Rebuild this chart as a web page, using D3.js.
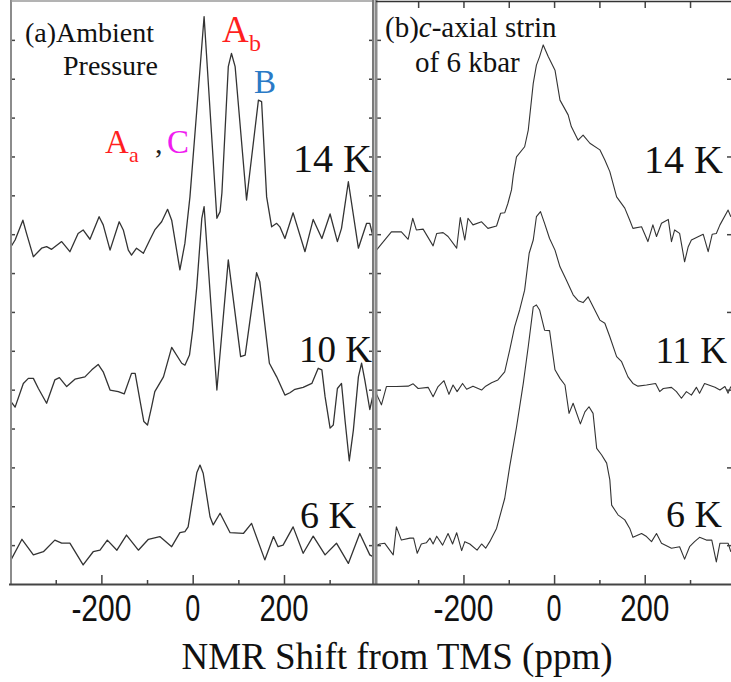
<!DOCTYPE html>
<html>
<head>
<meta charset="utf-8">
<script src="https://cdn.jsdelivr.net/npm/d3@7"></script>
<style>
  body { margin: 0; background: #fff; }
  svg { display: block; }
</style>
</head>
<body>
<div id="chart"></div>
<script>
// spectra: [shift in ppm, intensity in y-tick units]
const ambient14K = [[-398,8.68],[-389,8.85],[-372,9.36],[-364,9.02],[-349,8.42],[-331,8.64],[-320,8.68],[-309,8.61],[-287,8.81],[-269,8.55],[-251,9.02],[-240,9.11],[-225,8.87],[-205,9.45],[-196,9.24],[-181,8.59],[-161,9.32],[-152,9.11],[-141,8.59],[-134,8.46],[-123,8.64],[-108,8.51],[-94,8.85],[-83,9.11],[-68,9.32],[-55,9.64],[-46,9.36],[-28,8.08],[-17,8.77],[-6,9.96],[9,12.19],[25,14.6],[53,9.41],[60,9.58],[64,10.06],[78,13.31],[85,13.65],[93,13.31],[118,9.88],[144,12.45],[151,12.41],[162,9.96],[173,9.19],[184,9.28],[191,9.19],[202,8.89],[220,9.55],[246,8.55],[264,9.38],[283,8.89],[301,9.52],[317,8.81],[326,9.15],[341,10.35],[363,8.64],[381,9.28],[388,9.28],[395,8.94]];
const ambient10K = [[-398,4.69],[-389,4.55],[-371,5.16],[-360,5.29],[-349,5.29],[-338,5.03],[-320,4.65],[-302,5.25],[-292,5.31],[-276,5.08],[-258,5.27],[-236,5.33],[-221,5.51],[-207,5.65],[-196,5.46],[-181,4.99],[-163,4.95],[-150,4.89],[-134,5.42],[-126,5.42],[-115,4.69],[-107,4.18],[-99,4.09],[-90,4.56],[-83,4.95],[-64,5.33],[-46,6.09],[-24,5.68],[-17,5.63],[-7,5.89],[0,6.53],[9,7.65],[20,9.41],[25,9.71],[53,4.99],[78,8.34],[105,5.85],[115,5.89],[140,8.01],[147,7.78],[168,5.68],[184,5.33],[202,4.86],[213,4.92],[224,5.01],[242,5.06],[261,5.16],[275,5.55],[283,5.51],[290,4.82],[301,4.01],[308,4.09],[317,5.03],[326,5.16],[334,4.18],[343,3.17],[352,3.96],[363,5.33],[370,5.68],[377,5.25],[388,4.49],[395,4.86]];
const ambient6K = [[-398,0.62],[-374,1.15],[-349,0.75],[-327,0.83],[-302,1.13],[-287,1.05],[-269,1.05],[-240,0.49],[-218,0.83],[-203,0.87],[-187,1.13],[-166,0.87],[-145,1.26],[-119,0.87],[-97,1.15],[-72,1.22],[-46,0.96],[-28,1.32],[-17,1.35],[-10,1.47],[9,2.86],[16,3.06],[23,2.85],[38,1.73],[45,1.52],[60,1.82],[82,1.32],[111,1.3],[129,1.56],[158,0.62],[177,1.22],[187,0.96],[198,1.0],[220,1.47],[242,0.79],[264,1.23],[290,0.75],[315,1.05],[341,0.53],[366,1.3],[388,0.75],[395,0.7]];

const strain14K = [[-392,8.59],[-374,8.85],[-359,9.06],[-337,9.06],[-322,8.87],[-312,9.41],[-304,9.11],[-289,9.13],[-267,8.7],[-259,9.02],[-245,9.04],[-234,8.94],[-215,8.64],[-207,9.43],[-197,8.85],[-190,9.41],[-179,9.24],[-160,9.32],[-146,9.15],[-127,9.21],[-118,9.54],[-109,9.55],[-102,9.79],[-94,10.14],[-90,10.52],[-83,10.99],[-65,11.25],[-57,11.68],[-46,12.88],[-39,13.35],[-32,13.57],[-24,13.87],[-13,13.57],[2,13.22],[13,12.45],[31,12.07],[38,11.77],[53,11.42],[64,11.55],[79,11.34],[101,11.17],[112,10.91],[123,10.61],[138,9.96],[156,9.67],[167,9.36],[174,9.15],[193,9.19],[207,8.81],[218,9.24],[226,8.94],[237,9.28],[252,9.38],[259,8.81],[266,9.11],[277,9.02],[288,8.29],[296,8.68],[303,8.85],[329,9.0],[340,8.55],[349,9.0],[358,9.02],[366,9.24],[384,9.62],[390,9.45]];
const strain11K = [[-396,4.99],[-381,4.61],[-370,5.08],[-348,5.08],[-322,5.09],[-311,5.15],[-300,5.03],[-278,5.06],[-267,4.82],[-256,5.08],[-243,5.23],[-232,4.88],[-223,5.12],[-214,4.95],[-202,5.16],[-193,5.01],[-179,5.09],[-160,4.99],[-151,5.09],[-138,5.18],[-124,5.25],[-109,5.46],[-98,6.02],[-87,6.62],[-76,7.05],[-65,7.56],[-55,8.51],[-46,8.85],[-39,9.45],[-30,9.58],[-21,9.28],[-10,8.89],[2,8.59],[13,8.16],[27,7.82],[42,7.44],[53,7.29],[64,7.24],[75,7.39],[101,6.79],[112,6.71],[123,6.36],[138,5.85],[149,5.72],[163,5.33],[174,5.16],[185,5.09],[204,5.12],[224,5.16],[233,4.95],[241,5.03],[259,5.06],[270,4.95],[281,4.78],[292,4.95],[303,4.86],[314,5.06],[321,4.91],[332,5.16],[355,5.06],[366,4.99],[377,5.08],[384,4.91],[390,5.08]];
const strain6K = [[-396,0.96],[-385,1.03],[-374,1.05],[-355,0.75],[-348,1.47],[-337,1.13],[-318,1.18],[-310,1.18],[-302,0.79],[-293,1.03],[-282,1.06],[-274,1.18],[-267,1.03],[-259,1.23],[-246,1.0],[-234,1.3],[-224,1.03],[-215,1.32],[-204,0.86],[-197,1.09],[-186,1.03],[-170,0.87],[-160,1.03],[-151,0.92],[-142,1.09],[-127,1.43],[-109,2.2],[-98,3.02],[-83,4.03],[-68,5.16],[-57,6.11],[-46,7.13],[-39,7.18],[-32,7.05],[-21,6.53],[-10,6.52],[2,5.51],[13,5.29],[24,5.12],[33,4.39],[42,4.65],[58,4.12],[68,4.43],[77,4.56],[86,4.39],[94,3.49],[105,3.32],[116,3.11],[123,2.68],[127,2.03],[141,1.78],[156,1.65],[167,1.43],[174,1.2],[193,1.3],[204,1.22],[215,1.09],[226,1.3],[237,1.05],[259,0.92],[277,0.96],[288,0.64],[299,0.96],[310,1.09],[321,1.2],[336,1.13],[348,1.13],[358,0.57],[366,1.05],[384,1.05],[390,0.83]];

const majorTicks = [-200, 0, 200];
const minorTicks = [-300, -100, 100, 300];
const yTicks = [1, 2, 3, 4, 5, 6, 7, 8, 9, 10, 11, 12, 13, 14];
const tempsA = [{ t: '14 K', x: 372, y: 172, s: 40 }, { t: '10 K', x: 372, y: 362, s: 37 }, { t: '6 K', x: 356, y: 528, s: 38 }];
const tempsB = [{ t: '14 K', x: 723, y: 173, s: 40 }, { t: '11 K', x: 727, y: 363, s: 37 }, { t: '6 K', x: 722, y: 527, s: 38 }];

const W = 731, H = 682;
const serif = '"Liberation Serif", "Times New Roman", serif';
const narrow = '"Liberation Sans Narrow", "Liberation Sans", Arial, sans-serif';

const svg = d3.select('#chart').append('svg')
  .attr('width', W).attr('height', H)
  .style('background', '#fff');

const y = d3.scaleLinear().domain([0, 15]).range([584, 1]);
const xA = d3.scaleLinear().domain([-398, 395]).range([11, 373]);
const xB = d3.scaleLinear().domain([-393, 394.8]).range([376, 733]);

// clip regions for the two panels
const defs = svg.append('defs');
defs.append('clipPath').attr('id', 'clipA').append('rect').attr('x', 11).attr('y', 0).attr('width', 362).attr('height', 584);
defs.append('clipPath').attr('id', 'clipB').append('rect').attr('x', 376).attr('y', 0).attr('width', 357).attr('height', 584);

const drawTraces = (x, clip, series, width) => {
  const line = d3.line().x(d => x(d[0])).y(d => y(d[1]));
  svg.append('g').attr('clip-path', `url(#${clip})`)
    .selectAll('path').data(series).join('path')
    .attr('d', line)
    .attr('fill', 'none')
    .attr('stroke', '#333')
    .attr('stroke-width', width)
    .attr('stroke-linejoin', 'round');
};
drawTraces(xA, 'clipA', [ambient14K, ambient10K, ambient6K], 1.3);
drawTraces(xB, 'clipB', [strain14K, strain11K, strain6K], 1.1);

// tick marks, all pointing into the panels
const tickGroup = (axis, tx, ty) => {
  const g = svg.append('g').attr('transform', `translate(${tx},${ty})`).call(axis);
  g.select('.domain').remove();
  g.selectAll('.tick line').attr('stroke', '#444').attr('stroke-width', 1.5);
  g.selectAll('.tick text').remove();
  return g;
};
[xA, xB].forEach(x => {
  tickGroup(d3.axisBottom(x).tickValues(majorTicks).tickSize(-9), 0, 584);
  tickGroup(d3.axisBottom(x).tickValues(minorTicks).tickSize(-4), 0, 584);
});
tickGroup(d3.axisTop(xB).tickValues(majorTicks.concat(minorTicks)).tickSize(-7), 0, 1);
tickGroup(d3.axisLeft(y).tickValues(yTicks).tickSize(-4), 11, 0);
tickGroup(d3.axisRight(y).tickValues(yTicks).tickSize(-4), 373, 0);
tickGroup(d3.axisLeft(y).tickValues(yTicks).tickSize(-5), 376, 0);
tickGroup(d3.axisRight(y).tickValues(yTicks.filter(v => v % 2)).tickSize(-6), 733, 0);

// panel frames
const frame = (x1, y1, x2, y2, color, w) => svg.append('line')
  .attr('x1', x1).attr('y1', y1).attr('x2', x2).attr('y2', y2)
  .attr('stroke', color).attr('stroke-width', w);
frame(11, 0, 11, 585, '#8c8c8c', 2);
frame(11, 1, 373, 1, '#9a9a9a', 1.5);
frame(373, 0, 373, 585, '#7a7a7a', 2);
frame(376, 0, 376, 585, '#8c8c8c', 3);
frame(376, 1.5, 731, 1.5, '#333', 1.5);
frame(9, 584.5, 731, 584.5, '#444', 2);

// x tick labels
const labelW = { '-200': 60, '0': 15, '200': 49 };
[xA, xB].forEach(x => {
  svg.append('g').selectAll('text').data(majorTicks).join('text')
    .attr('x', d => x(d))
    .attr('y', 621)
    .attr('text-anchor', 'middle')
    .attr('font-family', narrow)
    .attr('font-size', 36)
    .attr('fill', '#111')
    .attr('textLength', d => labelW[String(d)])
    .attr('lengthAdjust', 'spacingAndGlyphs')
    .text(d => d);
});

svg.append('text')
  .attr('x', 397).attr('y', 669)
  .attr('text-anchor', 'middle')
  .attr('font-family', serif).attr('font-size', 37)
  .attr('fill', '#111')
  .text('NMR Shift from TMS (ppm)');

// panel captions
const txt = (x, yy, size, color, s, anchor = 'start') => svg.append('text')
  .attr('x', x).attr('y', yy)
  .attr('font-family', serif).attr('font-size', size)
  .attr('fill', color).attr('text-anchor', anchor)
  .text(s);
txt(25, 42, 28, '#111', '(a)Ambient');
txt(63, 75, 28, '#111', 'Pressure');

const capB = svg.append('text').attr('x', 385).attr('y', 37)
  .attr('font-family', serif).attr('font-size', 29).attr('fill', '#111');
capB.append('tspan').text('(b)');
capB.append('tspan').attr('font-style', 'italic').text('c');
capB.append('tspan').text('-axial strin');
txt(415, 72, 29, '#111', 'of 6 kbar');

// site labels
txt(105, 153, 33, '#ff1f1f', 'A');
txt(129, 162, 22, '#ff1f1f', 'a');
txt(155, 153, 30, '#222', ',');
txt(167, 153, 33, '#f01cf0', 'C');
txt(222, 42, 37, '#ff1f1f', 'A');
txt(249, 51, 24, '#ff1f1f', 'b');
txt(254, 93, 33, '#2a7ac6', 'B');

tempsA.concat(tempsB).forEach(d => txt(d.x, d.y, d.s, '#111', d.t, 'end'));
</script>
</body>
</html>
